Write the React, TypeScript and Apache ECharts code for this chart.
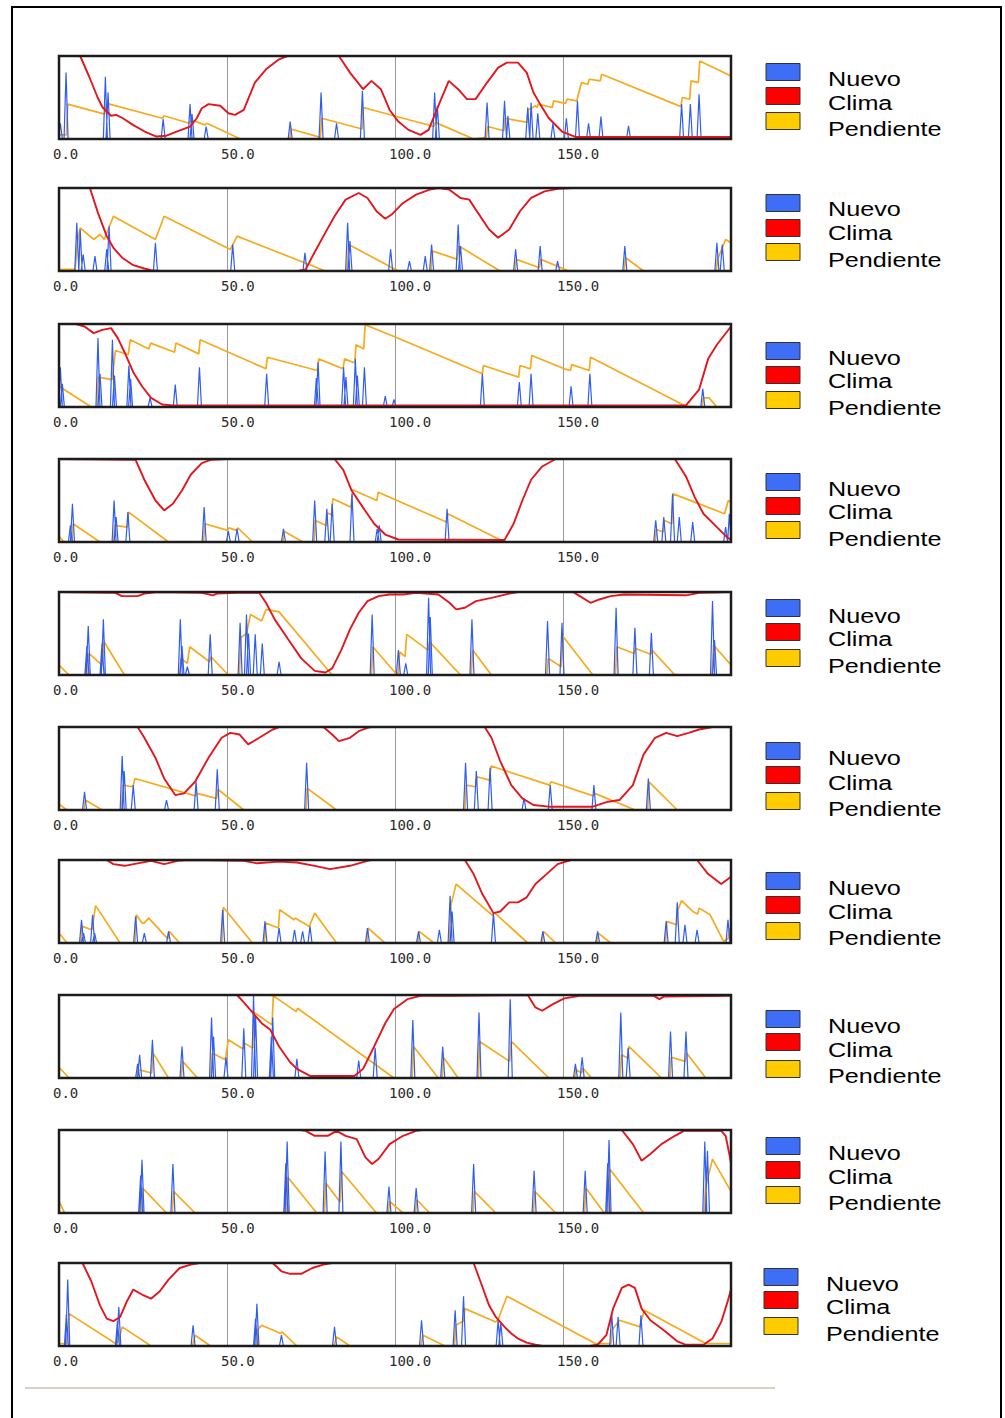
import React, { useEffect, useRef } from "react";
import * as echarts from "echarts";

type P = [number, number][];

const xTickLabels = ["0.0", "50.0", "100.0", "150.0"];
const legendNames = ["Nuevo", "Clima", "Pendiente"];
const legendColors = ["#3d6ef5", "#ff0000", "#ffcc00"];

// ---- Panel 1 ----
const nuevo1: P = [[0.4,0.19],[2.1,0.8],[13.8,0.75],[14.6,0.56],[31,0.24],[39,0.42],[39.6,0.3],[43.8,0.15],[68.8,0.21],[78,0.56],[82.6,0.19],[90.3,0.58],[111.8,0.56],[112.6,0.4],[127.4,0.44],[132.6,0.46],[133.6,0.28],[139.5,0.38],[140.5,0.44],[142.5,0.31],[147,0.19],[151,0.25],[154.3,0.46],[157.6,0.19],[161.3,0.27],[169.5,0.16],[185.3,0.42],[187.9,0.42],[190.5,0.54]];
const clima1: P = [[0,1],[6.3,1],[9,0.75],[11.5,0.5],[13,0.38],[15.5,0.28],[17,0.29],[19,0.25],[22,0.17],[25.5,0.09],[29,0.03],[32,0.04],[35,0.09],[39,0.15],[41,0.25],[42.5,0.37],[44.5,0.42],[48,0.4],[50.4,0.31],[52.4,0.29],[55,0.35],[58.3,0.68],[61.6,0.84],[65.5,0.96],[68,1],[83.3,1],[86.6,0.8],[90.5,0.6],[93,0.7],[95.8,0.6],[98.4,0.35],[101,0.21],[104,0.11],[107.6,0.05],[110,0.11],[112.9,0.4],[116,0.7],[118.8,0.6],[121.4,0.48],[124,0.48],[127.4,0.68],[130.7,0.86],[133.3,0.92],[136.6,0.92],[139.2,0.8],[141.2,0.56],[143.2,0.42],[145.8,0.25],[149.7,0.09],[153.7,0.025],[200,0.025]];
const pendiente1: P = [[0,0.05],[2.2,0.05],[2.6,0.42],[13.6,0.3],[14.2,0.43],[30.8,0.25],[31.2,0.28],[38.8,0.19],[39.3,0.23],[43.5,0.17],[44,0.19],[54,0],[68.7,0],[69,0.12],[77.8,0.02],[78.2,0.25],[90.2,0.12],[90.5,0.38],[111.6,0.15],[112,0.2],[123.4,0],[127.2,0.02],[127.6,0.15],[132.4,0.1],[132.8,0.25],[139.3,0.2],[139.6,0.35],[141.8,0.4],[142.3,0.38],[142.6,0.42],[146.8,0.38],[147.2,0.46],[150.8,0.43],[151.2,0.48],[154.1,0.46],[155.5,0.68],[157.4,0.66],[157.8,0.72],[161.1,0.7],[161.5,0.78],[185.1,0.39],[185.5,0.5],[187.7,0.48],[188.1,0.7],[190.3,0.68],[190.7,0.94],[200,0.76]];

// ---- Panel 2 ----
const nuevo2: P = [[5.3,0.58],[6.3,0.5],[7.2,0.2],[10.7,0.18],[14.2,0.26],[14.9,0.54],[28.7,0.34],[51.7,0.32],[73.2,0.22],[85.9,0.58],[86.6,0.36],[98.7,0.26],[104.3,0.12],[109,0.18],[110.9,0.32],[118.8,0.56],[119.5,0.3],[135.9,0.26],[143.2,0.3],[148.4,0.12],[168.4,0.3],[195.8,0.34],[197.4,0.32]];
const clima2: P = [[0,1],[9.2,1],[11.6,0.7],[14.2,0.42],[16.2,0.28],[18.8,0.16],[22.1,0.07],[25.4,0.03],[27.4,0.01],[30,0],[71,0],[73.4,0.02],[76,0.22],[78.7,0.42],[82,0.66],[85.3,0.86],[89.2,0.94],[91.8,0.88],[94.5,0.72],[97.1,0.63],[99,0.68],[102.4,0.82],[106.3,0.92],[110.3,0.98],[112.9,1],[116.2,0.98],[119.5,0.88],[122.1,0.86],[124.7,0.7],[128,0.5],[130.7,0.4],[134,0.5],[137.2,0.72],[140.5,0.88],[144.5,0.96],[148.4,0.99],[153,1],[200,1]];
const pendiente2: P = [[0,0.02],[4.8,0.02],[5.5,0.35],[6.3,0.52],[10.3,0.38],[12.2,0.44],[13.5,0.38],[16.2,0.66],[28.7,0.38],[31.3,0.66],[51,0.26],[53,0.42],[79.3,0],[85.7,0],[86.2,0.32],[101,0],[110.7,0],[111.2,0.24],[118.6,0.14],[119,0.3],[131.3,0],[135.7,0],[136.1,0.14],[143,0.04],[143.4,0.14],[151.7,0],[168.2,0],[168.6,0.16],[174,0],[195.6,0],[196,0.14],[198.4,0.38],[200,0.34]];

// ---- Panel 3 ----
const nuevo3: P = [[0.4,0.48],[1,0.28],[11.6,0.83],[12.2,0.4],[15.9,0.81],[16.5,0.38],[20.8,0.5],[21.3,0.34],[27.1,0.11],[34.6,0.27],[41.8,0.48],[61.8,0.4],[76.6,0.35],[77.1,0.54],[84.7,0.48],[85.4,0.36],[88.2,0.58],[88.8,0.38],[90.9,0.48],[97.1,0.13],[99.7,0.09],[126,0.4],[137,0.3],[140.5,0.4],[152.4,0.25],[158,0.4],[191.6,0.22]];
const clima3: P = [[0,1],[5,1],[7.6,0.97],[10.3,0.89],[12.9,0.93],[15.5,0.95],[17.5,0.83],[19.5,0.66],[22.1,0.42],[24.7,0.25],[27.4,0.11],[30.7,0.03],[33.9,0.02],[186.6,0.02],[190.5,0.21],[193.2,0.58],[195.8,0.75],[200,0.97]];
const pendiente3: P = [[0,0.25],[9.6,0],[11.4,0],[11.7,0.36],[15.8,0.33],[16.8,0.68],[20.6,0.63],[21.2,0.81],[26.7,0.7],[27.3,0.77],[34.4,0.66],[34.8,0.77],[41.6,0.64],[42,0.81],[61.6,0.46],[62,0.6],[76.9,0.44],[77.3,0.58],[84.5,0.46],[85,0.58],[88,0.53],[88.4,0.75],[90.7,0.7],[91.1,0.99],[99.7,0.85],[126,0.4],[126.3,0.5],[136.8,0.36],[137.2,0.5],[140.3,0.46],[140.7,0.62],[150.4,0.46],[152.2,0.44],[152.6,0.51],[157.8,0.44],[158.2,0.6],[186.6,0.01],[191.4,0],[191.8,0.11],[193.5,0.11],[195.8,0],[200,0]];

// ---- Panel 4 ----
const nuevo4: P = [[3.4,0.2],[4,0.46],[16.4,0.5],[17,0.3],[20.5,0.36],[43.2,0.42],[50.4,0.13],[53,0.16],[66.8,0.16],[76.1,0.5],[79.7,0.4],[81.3,0.46],[87.2,0.58],[94.7,0.16],[95.3,0.2],[115.5,0.4],[177.6,0.26],[180,0.3],[182.6,0.58],[184.6,0.3],[188.6,0.24],[198.4,0.18],[199.5,0.34]];
const clima4: P = [[0,1],[22.8,0.99],[25.4,0.75],[28.7,0.5],[31.3,0.38],[33.9,0.46],[36.6,0.62],[39.2,0.81],[42.5,0.95],[45.1,0.99],[50,1],[82,1],[84.6,0.87],[87.1,0.62],[90.4,0.42],[93.8,0.22],[97.1,0.09],[101,0.03],[132.6,0.025],[135.3,0.22],[137.9,0.5],[140.5,0.75],[143.8,0.91],[147.8,1],[183.3,1],[186.6,0.79],[189.2,0.54],[191.8,0.34],[195.8,0.18],[199,0.05],[200,0.03]];
const pendiente4: P = [[0,0.07],[1.5,0],[3.8,0],[4.2,0.22],[12.2,0],[16.2,0],[16.6,0.2],[20.3,0.18],[20.7,0.36],[32.6,0],[43,0],[43.4,0.22],[50.2,0.14],[50.6,0.17],[52.8,0.14],[53.2,0.17],[57.6,0],[66.6,0],[67,0.13],[72.6,0],[75.9,0],[76.3,0.26],[79.5,0.2],[79.9,0.35],[81.1,0.33],[81.5,0.52],[86.9,0.42],[87.4,0.63],[94.6,0.5],[95,0.6],[115.3,0.24],[115.7,0.34],[132.6,0],[177.4,0],[177.8,0.15],[179.8,0.12],[180.2,0.26],[182.4,0.22],[182.8,0.58],[189.2,0.48],[198.1,0.34],[199.2,0.5],[200,0.48]];

// ---- Panel 5 ----
const nuevo5: P = [[8.3,0.35],[8.7,0.59],[12.8,0.38],[13.2,0.67],[36.1,0.67],[36.6,0.35],[38.2,0.1],[45,0.49],[53.9,0.63],[55.8,0.73],[56.4,0.5],[58.4,0.49],[60.5,0.38],[65.5,0.16],[93.2,0.73],[101,0.3],[103.2,0.14],[110,0.93],[110.5,0.7],[122.9,0.67],[145.4,0.65],[149.7,0.63],[165.8,0.81],[171.4,0.57],[176.3,0.51],[194.5,0.89],[195.1,0.42]];
const clima5: P = [[0,1],[16.8,0.99],[18.7,0.95],[23.4,0.95],[25.4,0.98],[29.3,1],[42.5,0.99],[45.8,0.96],[47,0.98],[53,0.99],[59.6,0.99],[61.6,0.87],[64.2,0.67],[68.2,0.43],[72.1,0.2],[76.1,0.05],[79.3,0.03],[81.3,0.08],[84,0.3],[86.6,0.55],[89.2,0.75],[91.8,0.89],[95.1,0.95],[98.4,0.97],[102.4,0.97],[106.3,0.99],[112.9,0.97],[116.2,0.87],[118.2,0.79],[120.8,0.81],[124.1,0.89],[128.7,0.93],[134,0.98],[136.6,1],[153,1],[155,0.95],[158.2,0.87],[160.8,0.91],[164.2,0.95],[168.2,0.97],[186.6,0.96],[190.5,0.99],[200,1]];
const pendiente5: P = [[0,0.12],[3,0],[8.5,0],[8.9,0.26],[12.8,0.12],[13.4,0.4],[19.5,0],[35.9,0],[36.3,0.2],[38.2,0.14],[38.9,0.34],[44.8,0.16],[45.2,0.22],[50.4,0],[53.7,0],[54.1,0.45],[55.8,0.5],[57,0.73],[60.3,0.65],[61.6,0.79],[65.5,0.76],[81.3,0],[93,0],[93.4,0.34],[100,0.03],[101,0.02],[101.4,0.28],[103,0.22],[103.5,0.49],[109.8,0.3],[110.3,0.4],[119.5,0],[122.7,0],[123.1,0.3],[128.7,0],[145.2,0],[145.6,0.2],[149.5,0.1],[149.9,0.47],[158.9,0],[165.6,0],[166,0.34],[171.2,0.26],[171.6,0.32],[176.1,0.25],[176.5,0.3],[183.3,0],[194.3,0],[194.8,0.36],[200,0.12]];

// ---- Panel 6 ----
const nuevo6: P = [[7.6,0.22],[18.8,0.65],[19.4,0.47],[22.1,0.3],[32,0.12],[40.8,0.34],[47.1,0.49],[73.7,0.57],[121,0.57],[124.2,0.47],[128.3,0.51],[138.4,0.14],[146.2,0.3],[159.2,0.3],[175.4,0.38]];
const clima6: P = [[0,1],[23.4,1],[25.4,0.87],[28.7,0.63],[31.3,0.38],[34.6,0.18],[37.2,0.2],[40.5,0.34],[44.5,0.63],[48.4,0.87],[51,0.93],[53.7,0.91],[56.3,0.79],[59.6,0.87],[63.6,0.97],[65.5,1],[78.7,1],[81.3,0.91],[83.3,0.83],[86.6,0.87],[89.2,0.95],[91.8,0.99],[93,1],[126.7,1],[128.7,0.87],[131.3,0.59],[134.6,0.3],[137.9,0.14],[141.2,0.06],[145.8,0.04],[158.9,0.04],[163.4,0.1],[166.8,0.12],[170.8,0.3],[174,0.67],[177.4,0.87],[180.7,0.93],[184,0.89],[187.4,0.93],[190.5,0.97],[194.5,1],[200,1]];
const pendiente6: P = [[0,0.07],[2.4,0],[7.4,0],[7.8,0.12],[12.9,0],[18.6,0],[19,0.3],[22,0.28],[22.6,0.38],[40.6,0.17],[41,0.2],[46.9,0.14],[47.3,0.25],[55,0],[73.5,0],[73.9,0.26],[82.6,0],[120.8,0],[121.2,0.3],[124,0.28],[124.4,0.4],[128.1,0.36],[128.6,0.53],[146,0.3],[146.4,0.34],[159,0.17],[159.4,0.2],[171.5,0],[175.2,0],[175.6,0.34],[184,0],[200,0]];

// ---- Panel 7 ----
const nuevo7: P = [[6.7,0.28],[7.3,0.12],[10,0.34],[10.6,0.12],[22.8,0.32],[25.4,0.12],[32.6,0.14],[48.7,0.4],[61.3,0.26],[65.5,0.18],[70.1,0.16],[72.5,0.14],[74.7,0.2],[91.8,0.18],[107,0.14],[113.2,0.16],[116.4,0.57],[117,0.38],[129.3,0.36],[144,0.14],[160.3,0.14],[180.7,0.26],[184,0.49],[186.3,0.22],[189.9,0.16],[199.1,0.28]];
const clima7: P = [[0,1],[14.2,1],[16.2,0.95],[19.5,0.93],[23.4,0.96],[27.4,0.99],[31.3,0.95],[35.3,0.99],[38.6,1],[55,0.99],[58.9,0.96],[65.5,0.98],[70.8,0.97],[76.1,0.93],[80.7,0.89],[86.6,0.93],[91.8,0.99],[93,1],[120.8,1],[123.4,0.83],[126,0.59],[129.3,0.36],[131.3,0.38],[134,0.49],[136.6,0.49],[139.2,0.55],[141.8,0.71],[145.1,0.83],[148.4,0.95],[152.4,1],[189.9,1],[193.2,0.83],[197.1,0.71],[199.7,0.79],[200,0.8]];
const pendiente7: P = [[0,0.12],[2.4,0],[6.5,0],[6.9,0.2],[9.8,0.16],[10.9,0.45],[18.2,0],[22.6,0],[23,0.34],[24.7,0.24],[25.3,0.24],[26.7,0.3],[32.4,0.05],[32.8,0.14],[35.9,0],[48.5,0],[48.9,0.43],[57.6,0],[61.1,0],[61.5,0.24],[65.3,0.18],[65.7,0.4],[69.9,0.28],[70.3,0.3],[74.5,0.2],[76.1,0.36],[82.6,0],[91.6,0],[92,0.18],[97,0],[106.8,0],[107.2,0.14],[111.6,0],[116.2,0],[116.6,0.45],[118.2,0.71],[129.1,0.33],[129.5,0.37],[139.5,0],[143.8,0],[144.2,0.14],[147.8,0],[160.1,0],[160.5,0.12],[164.2,0],[180.5,0],[180.9,0.26],[183.8,0.22],[184.2,0.4],[185.3,0.51],[188.6,0.38],[190.1,0.35],[190.5,0.42],[193.8,0.34],[197.8,0.02],[199.1,0.05],[199.7,0.18],[200,0.17]];

// ---- Panel 8 ----
const nuevo8: P = [[23.4,0.17],[24,0.28],[27.8,0.46],[36.6,0.38],[45.4,0.73],[46,0.5],[49.7,0.25],[55,0.6],[57.9,0.99],[58.5,0.76],[63.2,0.5],[63.6,0.73],[70.8,0.23],[89.2,0.21],[94.1,0.36],[105.3,0.7],[114.2,0.38],[125,0.79],[134.3,0.95],[153.7,0.17],[155.7,0.25],[167.2,0.79],[169.4,0.36],[182,0.56],[186.6,0.56]];
const clima8: P = [[0,1],[53,1],[55,0.91],[57.6,0.79],[60.3,0.66],[62.9,0.58],[65.5,0.38],[68.8,0.19],[70.8,0.11],[74.7,0.025],[87.9,0.025],[90.5,0.11],[93.8,0.38],[97.1,0.66],[99.7,0.83],[103.7,0.95],[107.6,0.99],[116.8,0.99],[139.5,1],[141.8,0.85],[143.8,0.81],[147,0.89],[150.4,0.96],[155,0.99],[177,0.99],[178.7,0.95],[180,0.98],[200,0.99]];
const pendiente8: P = [[0,0.13],[3,0],[23.2,0],[23.6,0.1],[27.6,0.06],[28,0.3],[32.6,0],[36.4,0],[36.8,0.2],[41.2,0],[45.2,0],[45.6,0.3],[49.5,0.22],[50.4,0.46],[54.8,0.35],[55.2,0.42],[57.7,0.36],[58.1,0.79],[63.4,0.64],[63.8,0.99],[70.6,0.8],[71,0.84],[99.7,0],[105.1,0],[105.5,0.38],[112.9,0],[114,0],[114.4,0.25],[118.8,0],[124.8,0],[125.2,0.44],[134.1,0.2],[134.6,0.44],[145.8,0],[153.5,0],[153.9,0.1],[155.5,0.06],[155.9,0.12],[158.5,0],[167,0],[167.4,0.28],[169.2,0.24],[169.6,0.38],[179.3,0],[181.8,0],[182.2,0.25],[186.4,0.2],[186.8,0.3],[192.5,0],[200,0]];

// ---- Panel 9 ----
const nuevo9: P = [[24.3,0.45],[24.7,0.64],[33.9,0.59],[67.5,0.6],[67.9,0.86],[79.2,0.74],[83.9,0.86],[98.2,0.32],[106.3,0.3],[123.4,0.59],[141.4,0.51],[156.6,0.51],[163.3,0.6],[163.7,0.88],[192.2,0.86],[193,0.75]];
const clima9: P = [[0,1],[72,1],[73.4,0.99],[76.1,0.93],[80,0.93],[82.6,0.99],[85.3,0.93],[88.6,0.89],[91.2,0.67],[93.2,0.59],[95.1,0.65],[98.4,0.83],[102.4,0.93],[106.3,0.99],[108,1],[167.5,1],[170.8,0.83],[173.4,0.63],[176,0.71],[179.3,0.83],[183.3,0.93],[186,0.99],[197.1,0.99],[198.4,0.93],[199.7,0.67],[200,0.6]];
const pendiente9: P = [[0,0.14],[1.7,0],[24.5,0],[24.9,0.3],[32,0],[33.7,0],[34.1,0.26],[40.5,0],[67.7,0],[68.1,0.43],[76.7,0],[79,0],[79.4,0.36],[83.7,0.13],[84.1,0.5],[94.5,0],[98,0],[98.4,0.14],[102.4,0],[106.1,0],[106.5,0.16],[110.3,0],[123.2,0],[123.6,0.26],[130,0],[141.2,0],[141.6,0.26],[147.8,0],[156.4,0],[156.8,0.3],[162.3,0],[163.5,0],[163.9,0.53],[174,0],[192,0],[192.4,0.3],[194.5,0.65],[200,0.26]];

// ---- Panel 10 ----
const nuevo10: P = [[2.2,0.38],[2.6,0.8],[17.4,0.3],[17.8,0.47],[39.9,0.25],[58.5,0.33],[58.9,0.51],[66.2,0.13],[82,0.23],[107.9,0.31],[117.9,0.43],[120.4,0.6],[130.7,0.31],[131.5,0.28],[164.5,0.39],[166.4,0.35],[173.2,0.37]];
const clima10: P = [[0,1],[7,1],[9.6,0.78],[12.2,0.49],[14.2,0.33],[16.2,0.3],[18.2,0.35],[20.1,0.53],[22.1,0.68],[24.7,0.62],[27.4,0.57],[30,0.66],[32.6,0.8],[35.9,0.94],[39.2,0.98],[41.8,1],[63.6,1],[66.2,0.9],[68.8,0.87],[72.1,0.87],[75.4,0.94],[78.7,0.98],[81.3,1],[123.4,1],[125.4,0.78],[128,0.49],[130,0.35],[132.6,0.23],[134.6,0.15],[136.6,0.09],[139.2,0.04],[141.8,0.015],[144,0],[158,0],[160.3,0.015],[162.9,0.13],[164.9,0.45],[167.5,0.7],[169.5,0.74],[171.4,0.7],[173.4,0.45],[176,0.31],[180,0.19],[183.9,0.06],[186.6,0.015],[191.8,0.015],[194.5,0.09],[197.1,0.29],[199.1,0.55],[200,0.68]];
const pendiente10: P = [[0,0.03],[2.4,0.03],[3,0.39],[16.8,0.03],[17.6,0.05],[18.8,0.23],[27.4,0],[39.7,0],[40.5,0.13],[45.1,0],[58.7,0],[59.2,0.2],[60.3,0.25],[66,0.15],[66.4,0.17],[70.8,0],[81.8,0],[82.6,0.11],[86.6,0],[107.7,0],[108.3,0.13],[114.9,0],[117.7,0],[118.1,0.25],[120.4,0.3],[120.8,0.45],[130,0.29],[130.7,0.32],[133.3,0.6],[159.6,0.03],[164.3,0.03],[164.7,0.2],[166.8,0.31],[172.9,0.23],[173.3,0.3],[174.2,0.43],[192.5,0.03],[200,0.03]];

const nuevoAll = [nuevo1, nuevo2, nuevo3, nuevo4, nuevo5, nuevo6, nuevo7, nuevo8, nuevo9, nuevo10];
const climaAll = [clima1, clima2, clima3, clima4, clima5, clima6, clima7, clima8, clima9, clima10];
const pendienteAll = [pendiente1, pendiente2, pendiente3, pendiente4, pendiente5, pendiente6, pendiente7, pendiente8, pendiente9, pendiente10];

// ---- layout ----
const TOPS = [56, 188, 324, 459, 592, 727, 860, 995, 1130, 1263];
const PH = 83;
const PL = 59;
const PW = 672;
const BOX_Y = [[72,96,121],[203,228,252],[351,375,400],[482,506,530],[608,632,658],[751,775,801],[881,905,931],[1019,1042,1069],[1146,1170,1195],[1277,1300,1326]];
const TEXT_Y = [[79,103,129],[209,233,260],[358,381,408],[489,512,539],[616,639,666],[758,783,809],[888,912,938],[1026,1050,1076],[1153,1177,1203],[1284,1307,1334]];

const spikeLine = (arr: P) =>
  arr.flatMap(([x, h]) => [[x - 0.6, 0], [x, h], [x + 0.6, 0]]);

export default function App() {
  const ref = useRef<HTMLDivElement>(null);
  useEffect(() => {
    if (!ref.current) return;
    const chart = echarts.init(ref.current, null, { renderer: "svg" });
    const grid: any[] = [];
    const xAxis: any[] = [];
    const yAxis: any[] = [];
    const series: any[] = [];
    const graphic: any[] = [];

    TOPS.forEach((top, i) => {
      grid.push({
        left: PL, top, width: PW, height: PH, show: true, z: 5,
        backgroundColor: "transparent", borderColor: "#1c1c1c", borderWidth: 2.5,
      });
      xAxis.push({
        gridIndex: i, type: "value", min: 0, max: 200, interval: 50,
        axisLine: { show: false }, axisTick: { show: false },
        splitLine: { show: true, lineStyle: { color: "#9a9a9a", width: 1 } },
        axisLabel: {
          show: true, margin: 8, align: "left", padding: [0, 0, 0, -6],
          fontFamily: "DejaVu Sans Mono", fontSize: 14, color: "#2a2a2a",
          formatter: (v: number) => xTickLabels[Math.round(v / 50)] ?? "",
        },
      });
      yAxis.push({ gridIndex: i, type: "value", min: 0, max: 1, show: false });
      series.push({
        type: "line", name: "Pendiente", xAxisIndex: i, yAxisIndex: i,
        data: pendienteAll[i], showSymbol: false, symbol: "none",
        lineStyle: { color: "#f7aa1c", width: 1.7 }, z: 2,
      });
      series.push({
        type: "line", name: "Nuevo", xAxisIndex: i, yAxisIndex: i,
        data: spikeLine(nuevoAll[i]), showSymbol: false, symbol: "none",
        lineStyle: { color: "#2f5cf2", width: 1.2 }, z: 3,
      });
      series.push({
        type: "line", name: "Clima", xAxisIndex: i, yAxisIndex: i,
        data: climaAll[i], showSymbol: false, symbol: "none",
        lineStyle: { color: "#e3161f", width: 1.9 }, z: 4,
      });
      const bx = i === 9 ? 764 : 766;
      const tx = i === 9 ? 826 : 828;
      legendNames.forEach((name, k) => {
        graphic.push({
          type: "rect", shape: { x: bx, y: BOX_Y[i][k] - 8.5, width: 34, height: 17 },
          style: { fill: legendColors[k], stroke: "#333", lineWidth: 1 },
        });
        graphic.push({
          type: "text", x: tx, y: TEXT_Y[i][k], scaleX: 1.2, scaleY: 1,
          style: {
            text: name, fill: "#000", fontSize: 21,
            fontFamily: "Liberation Sans, Arial, sans-serif", verticalAlign: "middle",
          },
        });
      });
    });

    graphic.push({
      type: "rect", shape: { x: 12, y: 7, width: 989, height: 1430 },
      style: { fill: "none", stroke: "#000", lineWidth: 2 },
    });
    graphic.push({
      type: "line", shape: { x1: 25, y1: 1388, x2: 775, y2: 1388 },
      style: { stroke: "#d8d1c2", lineWidth: 2 },
    });

    chart.setOption({
      animation: false,
      backgroundColor: "#ffffff",
      grid, xAxis, yAxis, series, graphic,
    });
    return () => chart.dispose();
  }, []);
  return (
    <div
      ref={ref}
      style={{ position: "absolute", left: 0, top: 0, width: 1005, height: 1418 }}
    />
  );
}
